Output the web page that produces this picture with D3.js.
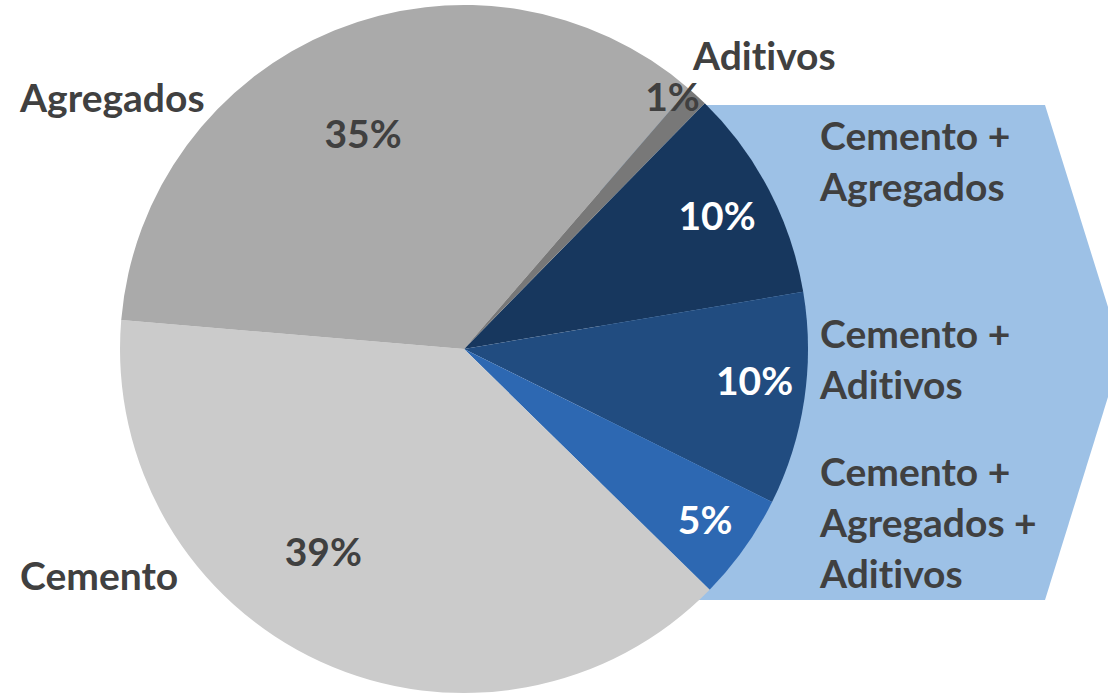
<!DOCTYPE html>
<html>
<head>
  <meta charset="UTF-8">
  <style>
    body { margin: 0; background: #fff; }
    text { font-family: Lato, "Open Sans", sans-serif; font-weight: bold; font-variant-ligatures: none; font-feature-settings: "liga" 0; }
  </style>
</head>
<body>
  <svg width="1108" height="694"></svg>
  <script src="https://d3js.org/d3.v7.min.js"></script>
  <script>
    // Data (clockwise from about 45 degrees)
    const categories = ['Cemento + Agregados', 'Cemento + Aditivos', 'Cemento + Agregados + Aditivos', 'Cemento', 'Agregados', 'Aditivos'];
    const values = [10, 10, 5, 39, 35, 1];
    const colors = ['#17375e', '#214c80', '#2d68b2', '#cbcbcb', '#aaaaaa', '#787878'];
    const textColors = ['#fff', '#fff', '#fff', '#404040', '#404040', '#404040'];

    const svg = d3.select('svg');
    const cx = 464, cy = 349, radius = 344;

    // light blue arrow behind the combined slices
    const arrow = [[600, 105], [1045, 105], [1122, 352], [1045, 600], [600, 600]];
    svg.append('polygon')
      .attr('points', arrow.map(p => p.join(',')).join(' '))
      .attr('fill', '#9dc1e6');

    const pie = d3.pie().sort(null).value(d => d)
      .startAngle(Math.PI / 4 - 0.01).endAngle(Math.PI / 4 - 0.01 + 2 * Math.PI);
    const arcs = pie(values);
    const arc = d3.arc().innerRadius(0).outerRadius(radius);

    const g = svg.append('g').attr('transform', `translate(${cx},${cy})`);
    g.selectAll('path')
      .data(arcs)
      .enter()
      .append('path')
      .attr('d', arc)
      .attr('fill', (d, i) => colors[i]);

    // percentage labels: radius fraction and small angle tweak per slice
    const labelR = [0.83, 0.85, 0.86, 0.72, 0.69, 0.95];
    const labelTweak = [0, -2, 0, 10, -3, -3];
    g.selectAll('text.pct')
      .data(arcs)
      .enter()
      .append('text')
      .attr('class', 'pct')
      .attr('text-anchor', 'middle')
      .attr('dy', '0.35em')
      .attr('font-size', 39)
      .attr('fill', (d, i) => textColors[i])
      .attr('transform', (d, i) => {
        const a = (d.startAngle + d.endAngle) / 2 + labelTweak[i] * Math.PI / 180;
        const r = radius * labelR[i];
        return `translate(${r * Math.sin(a)},${-r * Math.cos(a)})`;
      })
      .text(d => d.value + '%');

    // category labels
    const catLabels = [
      { lines: ['Cemento +', 'Agregados'], x: 820, y: 150 },
      { lines: ['Cemento +', 'Aditivos'], x: 820, y: 348 },
      { lines: ['Cemento +', 'Agregados +', 'Aditivos'], x: 820, y: 486 },
      { lines: ['Cemento'], x: 20, y: 590 },
      { lines: ['Agregados'], x: 20, y: 112 },
      { lines: ['Aditivos'], x: 693, y: 70 }
    ];
    catLabels.forEach(l => {
      const t = svg.append('text')
        .attr('x', l.x)
        .attr('y', l.y)
        .attr('font-size', 39)
        .attr('fill', '#404040');
      l.lines.forEach((s, i) => {
        t.append('tspan').attr('x', l.x).attr('dy', i === 0 ? 0 : 51).text(s);
      });
    });
  </script>
</body>
</html>
